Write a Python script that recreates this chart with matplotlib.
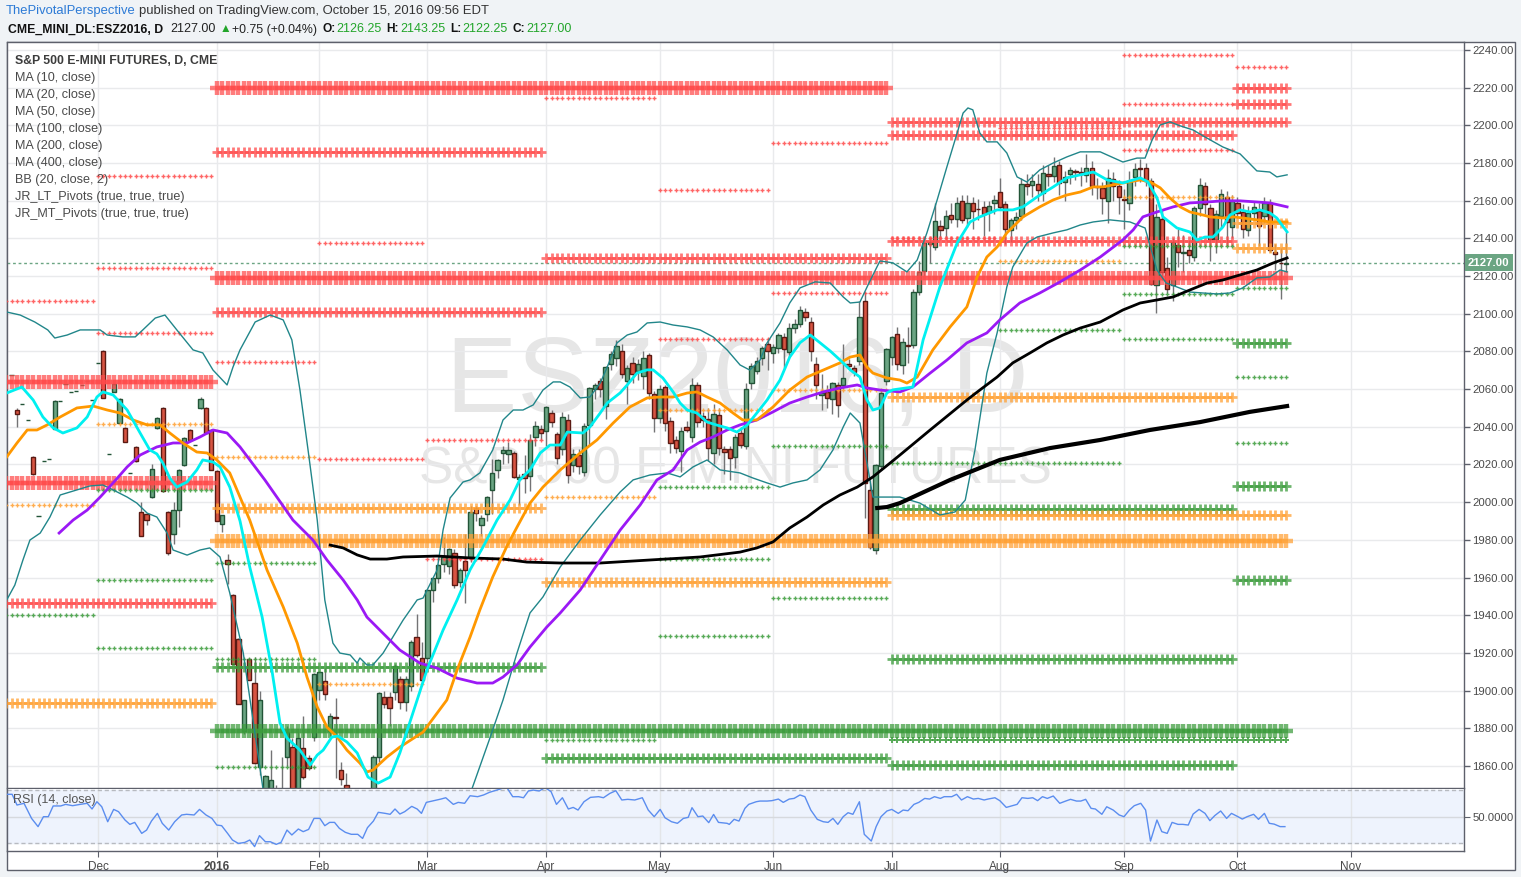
import numpy as np
import pandas as pd
import matplotlib
matplotlib.use('Agg')
import matplotlib.pyplot as plt
from matplotlib.patches import Rectangle
from matplotlib.transforms import blended_transform_factory

plt.rcParams['font.family'] = ['Liberation Sans', 'DejaVu Sans']

# ---------------------------------------------------------------- data
first_bar = '2015-11-06'
last_bar = '2016-10-14'
holidays = ['2015-11-26', '2015-12-25', '2016-01-01', '2016-01-18', '2016-02-15',
            '2016-03-25', '2016-05-30', '2016-07-04', '2016-09-05', '2016-11-24']

opens = [
    2067.5, 2049, 2052, 2043.5, 2024, 1992.5, 2022, 2023, 2039, 2053.5,
    2062.5, 2058.5, 2059, 2062, 2064.5, 2054, 2074, 2080, 2025.5, 2058.5,
    2042, 2039.5, 2015.5, 2029.5, 1995, 1993.5, 2002.5, 2039.5, 2050, 1995,
    1983, 1996, 2019.5, 2038.5, 2030.5, 2050, 2050, 2038.5, 2016.5, 1988.5,
    1969.5, 1950.5, 1927.5, 1878.5, 1917, 1904, 1859.5, 1836, 1845, 1846,
    1830, 1865, 1870, 1840, 1869.5, 1864, 1875.5, 1900.5, 1905, 1878.5,
    1885.75, 1858, 1850, 1836, 1815, 1826, 1812, 1805, 1864.5, 1896.5,
    1896.5, 1899.5, 1906, 1894, 1902.5, 1928.5, 1917.5, 1917.5, 1953.5, 1960,
    1967, 1966, 1973, 1957.5, 1969, 1971, 1997, 1988, 1993.5, 2006.5,
    2017, 2026, 2025.5, 2026, 2012.5, 2015, 2014, 2034.5, 2039, 2038,
    2047.5, 2036, 2028, 2043.5, 2019.5, 2025, 2016, 2041, 2060, 2064.5,
    2051, 2073.5, 2076.5, 2080, 2064.5, 2074, 2069.5, 2067, 2078, 2057.5,
    2044.5, 2061, 2043, 2033, 2027, 2040, 2034.5, 2062, 2045.5, 2044,
    2026, 2046.5, 2028, 2028, 2024, 2036.5, 2030, 2063, 2069.5, 2076.5,
    2084, 2079, 2082, 2087.5, 2079.5, 2092.5, 2094.5, 2101, 2095.5, 2073.5,
    2057, 2058.5, 2054.5, 2062, 2062, 2073.5, 2071, 2075, 2107, 2006.5,
    1974.5, 2019, 2064.5, 2077, 2089.5, 2073, 2083.25, 2083.5, 2111.5, 2122.5,
    2137, 2135.5, 2146.5, 2145.5, 2152.5, 2150.5, 2160, 2151, 2159, 2155.75,
    2156.5, 2154, 2159, 2164.5, 2158, 2144.5, 2149.5, 2152, 2169, 2168.5,
    2169, 2164, 2174, 2173, 2179, 2170, 2174, 2175.5, 2175, 2173.5,
    2177.5, 2167.5, 2166.5, 2160, 2171.5, 2168, 2161, 2158.5, 2172.5, 2177.5,
    2177.5, 2170.5, 2115, 2150.5, 2124.5, 2115, 2136.5, 2132, 2134, 2130,
    2156, 2168, 2156, 2139.5, 2152, 2162, 2146, 2158.5, 2154, 2144.5,
    2153.5, 2154.5, 2152, 2159, 2133, 2127, 2126.25]
highs = [
    2067.5, 2050, 2052, 2043.5, 2024.5, 1992.5, 2022, 2023, 2054, 2053.5,
    2062.5, 2058.5, 2059, 2062, 2064.5, 2054, 2074, 2080.5, 2025.5, 2063,
    2055.5, 2040, 2015.5, 2030, 2000, 1994, 2020.5, 2045, 2050.5, 1995.5,
    2000, 2017.5, 2034.5, 2039, 2030.5, 2056, 2050.5, 2039, 2017, 1993,
    1972.5, 1951, 1928, 1895, 1917.5, 1918, 1900, 1855, 1868.5, 1850,
    1865, 1881, 1875, 1879, 1886.5, 1866, 1909.5, 1910.5, 1912, 1888,
    1896, 1862, 1856, 1842, 1830, 1830, 1820, 1866, 1899, 1900,
    1899, 1914, 1908, 1908, 1927, 1940.5, 1926, 1954, 1960, 1967,
    1981.5, 1975.5, 1975, 1965, 1983, 1998, 1998, 1993, 2003, 2023,
    2023, 2030, 2032, 2027, 2015, 2025, 2036, 2043, 2041, 2051,
    2049, 2037, 2048, 2047, 2028, 2028, 2042, 2061, 2063, 2066,
    2072, 2080, 2086, 2084, 2073, 2077, 2076, 2080, 2079, 2059,
    2062, 2062, 2045, 2035, 2040, 2043, 2066, 2064, 2048, 2050,
    2052, 2050, 2030, 2030, 2036, 2040, 2063, 2074, 2077, 2083,
    2087, 2084, 2090, 2090, 2095, 2097, 2104, 2103, 2098, 2077,
    2068, 2062, 2064, 2064, 2084, 2076, 2073, 2107, 2111.5, 2012,
    2020, 2060, 2082, 2088, 2093, 2087, 2093, 2113, 2128, 2138.5,
    2140, 2159, 2150, 2155, 2159, 2162, 2163, 2163, 2162, 2161,
    2160, 2160, 2163, 2172, 2160, 2151, 2154, 2172, 2174, 2174,
    2174, 2179, 2179, 2183, 2181, 2176, 2178, 2177, 2178, 2185,
    2181, 2172, 2170, 2177, 2175, 2171, 2166, 2176, 2180, 2182,
    2180, 2172, 2158, 2155, 2130, 2140, 2145, 2142, 2139, 2157,
    2172, 2170, 2158, 2155, 2166, 2165, 2163, 2162, 2158, 2157,
    2160, 2159, 2162, 2161, 2137, 2135, 2143.25]
lows = [
    2067.5, 2040, 2052, 2043.5, 2014.5, 1992.5, 2022, 2023, 2039, 2053.5,
    2062.5, 2058.5, 2059, 2062, 2064.5, 2054, 2074, 2055.5, 2025.5, 2058.5,
    2042, 2032, 2015.5, 2021.5, 1982, 1988, 2002, 2039, 2005.5, 1972,
    1978, 1987, 2019, 2032.5, 2030.5, 2049.5, 2036.5, 2017, 1990, 1984,
    1956.5, 1914, 1893, 1877, 1905.5, 1861, 1855, 1830, 1840, 1825,
    1828, 1860, 1838, 1836, 1853, 1858, 1873, 1895, 1895, 1876,
    1853.5, 1850, 1830, 1812, 1800, 1808, 1795, 1803, 1862, 1891,
    1881, 1895, 1890, 1889, 1900, 1918, 1905, 1915, 1947, 1957,
    1963, 1962, 1954.5, 1955, 1946.5, 1968, 1990, 1982, 1990, 1993.5,
    2013, 2020, 2021, 2013, 1998.5, 2005, 2006, 2030, 2033, 2030,
    2040, 2020, 2025, 2010, 2016, 2015, 2014, 2030, 2055, 2056,
    2044, 2070, 2072, 2066, 2052, 2063, 2065, 2060, 2055, 2037,
    2042, 2038, 2026, 2026, 2016, 2037, 2032, 2040, 2040, 2022,
    2020, 2025, 2015, 2012, 2018, 2029, 2028, 2060, 2068, 2073,
    2070, 2074, 2079, 2071, 2077, 2090, 2093, 2096, 2075, 2055,
    2049, 2050, 2047, 2045, 2060, 2071, 2067, 2073, 1991.5, 1975,
    1972.5, 2017, 2062, 2073, 2070, 2068, 2074, 2082, 2110, 2120,
    2127, 2134, 2140, 2140, 2148, 2146, 2148, 2146, 2145, 2150,
    2141, 2144, 2153, 2155, 2137, 2138, 2145, 2150, 2163, 2162,
    2160, 2160, 2168, 2170, 2163, 2160, 2169, 2171, 2168, 2170,
    2163, 2161, 2153, 2148, 2160, 2153, 2145, 2155, 2168, 2170,
    2168, 2115, 2100.5, 2118, 2111, 2107, 2125, 2122, 2127, 2128,
    2152, 2153, 2128, 2132, 2145, 2137, 2140, 2151, 2140, 2141,
    2150, 2136, 2148, 2133, 2123, 2108, 2122.25]
closes = [
    2067.5, 2047, 2052, 2043.5, 2015, 1992.5, 2022, 2023, 2053.5, 2053.5,
    2062.5, 2058.5, 2059, 2062, 2064.5, 2054, 2074, 2055.5, 2025.5, 2062.5,
    2055, 2032, 2015.5, 2022, 1982, 1990.5, 2017.5, 2044.5, 2006, 1973,
    1996, 2017, 2034, 2033, 2030.5, 2054.5, 2036.5, 2017, 1990, 1993,
    1967, 1914, 1893, 1895, 1905.5, 1861.5, 1895, 1854.5, 1852.5, 1830,
    1846, 1878, 1840, 1875, 1854, 1859, 1909, 1910, 1898, 1886.5,
    1885.5, 1853, 1835, 1815, 1826, 1812, 1800, 1864.5, 1898.5, 1893,
    1890.5, 1913, 1894, 1906, 1926, 1919, 1905.5, 1953.5, 1959.5, 1966.5,
    1971, 1975, 1956, 1964, 1964, 1995, 1994.5, 1991.5, 2002.5, 2015.5,
    2022.5, 2027.5, 2027.5, 2013.5, 2013.5, 2013, 2033, 2040.5, 2036.5, 2050.5,
    2042.5, 2023.5, 2045, 2014.5, 2025.5, 2019, 2040.5, 2060.5, 2062, 2060,
    2071.5, 2078.5, 2083, 2068, 2071, 2068, 2073.5, 2076.5, 2058, 2044.5,
    2060, 2042, 2031.5, 2029, 2037.5, 2038.5, 2062, 2042.5, 2043.5, 2028.5,
    2047, 2028.5, 2026.5, 2023.5, 2034.5, 2030.5, 2060, 2072.5, 2075, 2082,
    2080, 2082.5, 2088.5, 2081.5, 2092.5, 2094.5, 2102, 2098, 2080, 2062,
    2058, 2055.5, 2063, 2051.5, 2066, 2072.5, 2069, 2098, 2010, 1976,
    2019.5, 2058, 2081.5, 2087.5, 2073.5, 2085, 2083, 2111.5, 2122, 2137.5,
    2138, 2149, 2144.5, 2152, 2150.5, 2159, 2150, 2159, 2154.5, 2155.5,
    2153, 2157, 2160.5, 2156.5, 2145, 2149.5, 2151.5, 2169, 2168, 2170.5,
    2165.5, 2174.5, 2173, 2178.5, 2169.5, 2172.5, 2176.5, 2175, 2174, 2177.5,
    2168, 2167, 2161.5, 2172, 2168, 2162, 2160.5, 2170.5, 2177, 2177,
    2170.5, 2116, 2151.5, 2122, 2113, 2138, 2132.5, 2133, 2131, 2156,
    2168.5, 2158, 2139.5, 2153, 2163.5, 2148.5, 2160, 2153.5, 2145, 2153.5,
    2156.5, 2146.5, 2159, 2134, 2131.5, 2126.75, 2127.0]

# indicator lines: (bar position, price); bar 0 = 2015-12-01
ma10 = [(-16.9, 2057.9), (-14.1, 2061.1), (-12.0, 2054.2), (-10.2, 2045.2), (-8.3, 2039.4), (-6.5, 2036.7),
        (-3.9, 2039.4), (-2.0, 2045.2), (-0.2, 2055.8), (0.9, 2058.5), (2.8, 2056.9), (5.4, 2048.9), (7.8, 2036.7),
        (9.6, 2027.7), (10.9, 2025.6), (12.0, 2020.8), (13.3, 2012.8), (14.6, 2008.0), (16.5, 2010.7),
        (18.3, 2017.1), (19.4, 2022.4), (21.3, 2021.3), (22.6, 2018.7), (24.4, 2008.0), (26.3, 1990.0),
        (28.1, 1965.6), (30.4, 1939.0), (32.2, 1910.9), (33.7, 1882.8), (35.0, 1874.8), (37.4, 1868.4),
        (39.3, 1860.5), (40.6, 1865.8), (41.7, 1868.4), (43.3, 1875.3), (44.4, 1875.9), (46.1, 1872.7),
        (48.0, 1866.9), (50.0, 1854.1), (51.9, 1850.9), (54.1, 1854.1), (55.9, 1866.9), (59.1, 1895.0),
        (60.9, 1910.9), (63.9, 1932.1), (66.5, 1948.1), (68.9, 1964.1), (71.3, 1976.2), (73.9, 1990.5),
        (76.3, 2001.1), (78.1, 2011.8), (80.0, 2017.1), (81.9, 2026.1), (83.7, 2030.3), (85.6, 2030.3),
        (86.9, 2037.2), (89.8, 2036.7), (91.1, 2039.9), (93.0, 2047.3), (94.3, 2052.6), (96.7, 2058.0),
        (98.0, 2062.2), (99.8, 2068.5), (101.7, 2070.2), (102.8, 2070.2), (104.6, 2065.9), (106.5, 2058.5),
        (107.8, 2052.6), (109.1, 2048.9), (110.9, 2047.3), (112.8, 2042.5), (114.6, 2040.9), (116.5, 2039.4),
        (118.3, 2037.2), (120.2, 2040.9), (122.0, 2047.3), (123.9, 2054.2), (126.3, 2064.8), (128.1, 2077.0),
        (130.0, 2084.6), (131.9, 2088.7), (133.7, 2084.6), (135.6, 2080.2), (137.4, 2075.5), (139.3, 2070.2),
        (141.1, 2066.4), (142.4, 2054.2), (143.5, 2048.9), (144.8, 2050.0), (146.1, 2058.0), (147.2, 2059.6),
        (150.9, 2061.1), (152.8, 2086.1), (155.9, 2114.2), (159.1, 2137.5), (161.5, 2148.7), (163.3, 2151.4),
        (166.5, 2155.1), (169.4, 2155.1), (171.3, 2156.7), (173.9, 2162.0), (176.9, 2167.3), (179.4, 2172.1),
        (181.9, 2173.7), (184.3, 2175.2), (186.9, 2171.0), (189.8, 2169.4), (193.0, 2172.1), (194.4, 2170.0),
        (196.1, 2161.5), (197.2, 2151.4), (199.8, 2145.5), (202.2, 2143.4), (203.5, 2139.1), (205.0, 2140.7),
        (206.5, 2140.7), (208.3, 2146.0), (209.6, 2152.4), (211.5, 2155.1), (213.3, 2154.0), (215.2, 2155.1),
        (217.0, 2153.5), (218.3, 2150.8), (220.2, 2143.4)]
ma20 = [(-16.9, 2024.0), (-15.0, 2031.4), (-13.1, 2038.3), (-11.3, 2038.3), (-9.4, 2041.0), (-7.0, 2045.2),
        (-3.9, 2050.0), (-0.9, 2051.0), (1.7, 2048.9), (4.1, 2047.3), (6.5, 2043.6), (9.1, 2041.0),
        (11.5, 2041.0), (13.3, 2036.7), (15.7, 2031.4), (18.3, 2026.6), (20.2, 2026.1), (22.0, 2022.4),
        (24.4, 2015.5), (26.3, 2002.7), (28.1, 1990.5), (31.3, 1964.0), (34.3, 1944.4), (36.9, 1925.2),
        (38.7, 1907.2), (40.6, 1891.3), (42.4, 1880.6), (44.3, 1875.3), (46.1, 1868.4), (48.5, 1861.5),
        (49.8, 1856.8), (50.9, 1857.8), (53.5, 1864.7), (55.9, 1870.0), (60.2, 1878.0), (64.6, 1895.0),
        (66.5, 1910.9), (68.9, 1928.4), (70.7, 1942.7), (73.1, 1960.3), (75.7, 1976.5), (77.6, 1986.8),
        (80.0, 1999.5), (82.4, 2008.0), (85.6, 2017.1), (89.3, 2026.1), (92.4, 2033.0), (95.4, 2042.0),
        (98.5, 2050.5), (101.7, 2055.3), (104.1, 2055.8), (106.5, 2055.8), (109.1, 2057.9), (110.9, 2058.5),
        (112.8, 2055.8), (115.2, 2052.6), (117.6, 2047.3), (119.4, 2043.6), (122.0, 2043.6), (125.0, 2050.5),
        (128.1, 2059.5), (131.3, 2066.4), (134.3, 2070.1), (137.4, 2073.9), (139.3, 2077.0), (141.1, 2078.1),
        (142.4, 2071.7), (143.5, 2068.5), (146.1, 2065.9), (148.5, 2064.8), (149.8, 2063.2), (151.7, 2066.4),
        (154.6, 2080.8), (157.8, 2093.0), (160.9, 2103.6), (162.8, 2119.5), (164.6, 2130.1), (166.5, 2135.4),
        (168.3, 2142.9), (171.3, 2151.4), (174.4, 2156.7), (176.9, 2160.4), (179.4, 2163.0), (181.9, 2164.6),
        (184.3, 2167.3), (186.1, 2167.3), (189.8, 2169.4), (193.0, 2171.0), (194.8, 2170.0), (196.7, 2166.8),
        (198.5, 2161.4), (200.4, 2156.7), (202.2, 2154.0), (204.6, 2152.4), (205.9, 2151.4), (208.3, 2150.8),
        (210.2, 2151.4), (212.0, 2150.8), (214.6, 2149.8), (217.0, 2148.7), (220.2, 2148.7)]
ma50 = [(-7.2, 1983.6), (-4.6, 1990.5), (-2.0, 1995.8), (0.4, 2002.7), (2.8, 2010.2), (5.4, 2018.7),
        (7.8, 2025.0), (10.9, 2029.3), (13.9, 2031.4), (16.5, 2031.4), (18.9, 2034.6), (21.3, 2038.3),
        (23.9, 2036.7), (26.3, 2029.3), (30.9, 2011.8), (36.1, 1990.5), (39.8, 1979.9), (42.4, 1969.3),
        (45.4, 1958.7), (48.0, 1948.1), (49.8, 1939.0), (52.2, 1932.1), (55.9, 1921.5), (59.6, 1914.6),
        (62.8, 1911.9), (66.5, 1906.6), (70.2, 1904.0), (73.1, 1904.0), (75.0, 1907.2), (77.6, 1913.6),
        (80.0, 1923.1), (83.1, 1933.7), (85.6, 1941.2), (89.3, 1953.4), (93.0, 1969.3), (96.7, 1985.2),
        (100.4, 1998.5), (103.5, 2011.8), (106.5, 2017.1), (109.1, 2027.7), (111.5, 2031.9), (113.9, 2034.6),
        (116.5, 2038.3), (118.9, 2041.0), (122.0, 2043.6), (125.0, 2047.9), (128.1, 2052.6), (131.3, 2055.8),
        (134.3, 2058.5), (137.4, 2060.6), (140.6, 2062.2), (142.4, 2060.6), (144.8, 2059.5), (148.5, 2058.5),
        (150.9, 2061.1), (154.1, 2068.5), (157.2, 2075.4), (160.9, 2084.5), (164.6, 2089.8), (167.0, 2096.7),
        (170.7, 2105.7), (174.4, 2111.0), (178.1, 2116.8), (181.9, 2123.2), (185.6, 2130.1), (189.8, 2139.2),
        (191.7, 2144.5), (193.5, 2151.4), (196.1, 2154.0), (199.1, 2156.7), (202.2, 2158.8), (205.4, 2159.3),
        (208.3, 2159.9), (211.5, 2159.9), (214.6, 2159.3), (217.0, 2158.8), (220.2, 2156.7)]
ma200 = [(43.0, 1977.2), (45.4, 1975.7), (48.0, 1972.0), (50.4, 1969.8), (53.5, 1969.8), (56.5, 1970.9),
         (62.8, 1971.4), (68.9, 1970.4), (75.0, 1969.8), (79.4, 1968.2), (85.6, 1967.7), (93.0, 1967.7),
         (102.2, 1969.3), (111.5, 1970.9), (118.9, 1973.5), (122.0, 1975.7), (125.0, 1978.9), (128.1, 1986.3),
         (131.3, 1992.1), (134.3, 1998.5), (137.4, 2003.8), (140.6, 2008.0), (143.5, 2013.4), (146.7, 2020.8),
         (148.5, 2025.0), (154.1, 2038.3), (160.9, 2054.2), (163.3, 2059.5), (166.5, 2066.4), (169.4, 2073.9),
         (172.6, 2079.2), (175.7, 2084.5), (178.7, 2088.7), (181.9, 2092.4), (185.6, 2095.6), (189.8, 2102.0),
         (193.0, 2105.7), (196.1, 2107.3), (199.1, 2108.9), (202.2, 2112.6), (205.4, 2116.3), (208.3, 2117.9),
         (211.5, 2120.6), (214.6, 2123.2), (217.6, 2126.9), (220.2, 2129.6)]
ma400 = [(144.3, 1996.9), (146.1, 1997.4), (148.5, 1999.5), (157.8, 2011.8), (167.0, 2022.4), (176.3, 2028.7),
         (185.6, 2033.0), (194.8, 2038.3), (204.1, 2042.5), (213.3, 2047.9), (220.2, 2051.0)]
bb_upper = [(-16.9, 2100.9), (-14.4, 2099.3), (-11.7, 2095.6), (-9.3, 2091.4), (-8.0, 2087.1), (-5.7, 2088.7),
            (-3.3, 2091.4), (0.4, 2091.4), (1.7, 2088.7), (4.6, 2087.7), (6.9, 2087.7), (8.3, 2091.4),
            (10.6, 2097.7), (12.4, 2099.3), (14.6, 2091.4), (17.6, 2080.8), (19.4, 2079.2), (21.3, 2070.1),
            (23.9, 2062.2), (25.0, 2071.7), (26.3, 2080.8), (29.1, 2095.6), (31.9, 2099.3), (34.3, 2096.7),
            (35.9, 2086.1), (37.4, 2059.5), (38.9, 2027.7), (40.6, 1990.5), (42.0, 1948.1), (43.5, 1925.2),
            (44.8, 1919.9), (46.7, 1918.9), (48.0, 1914.6), (48.5, 1917.3), (49.8, 1913.6), (50.9, 1913.6),
            (52.8, 1919.9), (54.6, 1928.4), (56.5, 1937.4), (59.1, 1948.1), (60.2, 1949.1), (62.8, 1964.0),
            (63.9, 1985.2), (65.2, 2002.2), (67.6, 2010.7), (68.9, 2011.8), (70.7, 2015.5), (73.1, 2027.7),
            (75.0, 2043.6), (76.9, 2048.9), (78.7, 2048.9), (80.6, 2051.6), (82.4, 2059.5), (84.3, 2063.8),
            (85.6, 2063.8), (87.4, 2061.1), (89.3, 2055.3), (91.1, 2055.8), (93.0, 2063.2), (94.3, 2071.7),
            (96.1, 2084.5), (98.0, 2088.7), (99.8, 2090.3), (101.7, 2095.1), (104.1, 2095.6), (106.5, 2094.0),
            (109.1, 2093.0), (111.5, 2091.4), (113.9, 2087.7), (116.5, 2080.8), (118.9, 2072.8), (120.7, 2070.1),
            (122.6, 2075.4), (123.9, 2084.5), (126.3, 2095.1), (128.1, 2105.7), (130.0, 2113.7), (132.8, 2116.9),
            (135.6, 2116.3), (138.0, 2108.9), (139.3, 2105.7), (141.1, 2106.2), (142.6, 2115.3), (144.8, 2128.0),
            (147.2, 2127.0), (149.8, 2122.2), (151.7, 2128.5), (153.5, 2142.9), (155.4, 2160.4), (157.2, 2177.9),
            (159.1, 2195.9), (160.2, 2206.5), (161.1, 2209.2), (162.0, 2208.2), (163.3, 2195.9), (164.6, 2191.2),
            (166.5, 2191.2), (168.3, 2185.3), (170.2, 2172.6), (172.0, 2169.9), (174.4, 2176.3), (176.9, 2180.0),
            (179.4, 2183.2), (181.9, 2185.9), (185.6, 2185.9), (189.8, 2180.5), (192.4, 2182.6), (193.9, 2182.6),
            (195.2, 2192.2), (196.7, 2200.2), (198.5, 2201.8), (200.4, 2199.7), (202.8, 2197.5), (205.0, 2193.8),
            (208.3, 2188.5), (211.5, 2184.8), (214.6, 2175.8), (217.0, 2175.2), (218.3, 2172.6), (220.2, 2173.7)]
bb_lower = [(-16.9, 1948.1), (-15.4, 1956.0), (-13.9, 1969.3), (-12.6, 1979.9), (-10.7, 1983.6), (-8.9, 1992.1),
            (-7.0, 2003.8), (-3.9, 2006.5), (-1.5, 2008.6), (0.9, 2009.1), (2.8, 2006.5), (5.4, 2002.7),
            (7.2, 1999.5), (9.1, 1994.2), (10.9, 1992.1), (12.8, 1983.6), (13.9, 1974.6), (16.5, 1971.9),
            (18.9, 1974.6), (20.7, 1975.7), (22.6, 1970.9), (24.4, 1951.8), (26.9, 1920.0), (28.7, 1884.4),
            (30.4, 1850.9), (31.9, 1820.0), (35.0, 1800.0), (45.0, 1785.0), (60.0, 1790.0), (66.0, 1810.0),
            (68.9, 1845.0), (72.6, 1875.0), (75.0, 1895.0), (77.6, 1920.0), (80.0, 1941.2), (82.4, 1949.7),
            (85.6, 1965.6), (89.3, 1979.9), (93.0, 1993.2), (96.7, 2005.4), (99.1, 2011.8), (102.2, 2014.4),
            (105.4, 2015.5), (107.8, 2013.4), (110.2, 2018.7), (112.8, 2022.4), (115.2, 2017.1), (118.9, 2015.5),
            (121.3, 2012.8), (123.9, 2010.2), (126.3, 2008.0), (128.7, 2010.2), (131.3, 2011.8), (133.7, 2017.1),
            (136.1, 2027.7), (138.0, 2039.9), (139.3, 2047.3), (141.1, 2042.0), (142.4, 2020.8), (143.5, 2002.7),
            (146.1, 2002.7), (148.5, 2002.7), (152.2, 1999.5), (155.9, 1993.2), (158.7, 1994.8), (160.6, 2001.1),
            (162.4, 2027.7), (164.6, 2068.5), (166.5, 2089.8), (168.3, 2114.2), (169.4, 2124.8), (172.0, 2137.5),
            (173.9, 2140.7), (176.9, 2142.9), (179.4, 2144.5), (181.9, 2147.1), (184.3, 2148.7), (187.4, 2149.8),
            (191.1, 2148.7), (193.9, 2145.5), (196.1, 2123.2), (197.8, 2116.3), (199.8, 2114.2), (202.2, 2111.5),
            (204.6, 2111.0), (207.2, 2110.5), (209.6, 2111.0), (212.0, 2113.7), (214.6, 2119.0), (217.0, 2119.5),
            (218.9, 2123.2), (220.2, 2122.2)]
rsi = [(-16.8, 67.0), (-15.9, 67.0), (-15.0, 58.9), (-13.7, 60.2), (-12.3, 48.8), (-11.1, 42.6), (-10.1, 50.1),
       (-9.2, 50.1), (-8.3, 58.2), (-6.9, 58.2), (-6.0, 59.4), (-4.7, 58.4), (-3.3, 59.4), (-2.0, 60.2),
       (-1.1, 55.9), (-0.2, 61.4), (0.7, 57.6), (1.8, 46.3), (2.9, 55.6), (3.8, 53.9), (5.0, 47.6), (5.9, 44.3),
       (6.8, 45.8), (8.1, 37.5), (9.0, 40.0), (9.9, 46.8), (11.0, 52.6), (11.9, 45.1), (13.1, 40.0), (14.2, 46.3),
       (15.5, 51.4), (16.4, 51.9), (17.8, 51.4), (18.8, 55.6), (20.0, 51.4), (21.1, 48.8), (22.0, 43.8),
       (22.9, 43.3), (24.0, 37.5), (24.9, 32.5), (26.0, 29.9), (27.2, 30.7), (28.1, 32.5), (29.0, 27.5),
       (29.9, 35.8), (31.0, 31.2), (31.9, 31.2), (33.0, 29.2), (33.9, 30.7), (35.0, 40.0), (35.9, 36.3),
       (37.1, 40.8), (38.0, 38.8), (39.0, 40.5), (40.0, 48.8), (41.1, 48.8), (42.0, 43.3), (42.9, 45.8),
       (43.8, 45.8), (44.7, 41.3), (45.8, 38.3), (46.9, 36.8), (48.1, 36.8), (49.0, 33.7), (49.9, 41.8),
       (51.0, 46.8), (51.9, 53.4), (53.2, 52.6), (54.1, 51.9), (55.0, 55.9), (55.9, 52.1), (56.8, 53.9),
       (58.1, 57.9), (59.1, 55.9), (59.9, 52.6), (60.8, 60.9), (62.2, 62.2), (63.5, 63.4), (64.4, 64.4),
       (65.8, 59.4), (66.7, 60.9), (67.9, 60.2), (68.9, 65.9), (70.3, 65.2), (71.4, 66.5), (72.5, 68.5),
       (73.9, 70.2), (74.9, 71.5), (75.8, 71.5), (76.8, 65.2), (77.9, 65.2), (78.8, 64.4), (79.7, 69.5),
       (80.6, 70.2), (81.7, 69.5), (82.8, 72.0), (83.9, 69.0), (84.9, 59.4), (86.0, 64.4), (87.1, 55.9),
       (88.0, 57.1), (88.9, 55.1), (90.0, 61.4), (91.2, 64.7), (92.7, 65.2), (93.6, 64.4), (94.8, 67.7),
       (95.9, 69.7), (97.0, 62.7), (98.1, 63.2), (99.4, 62.7), (100.8, 64.4), (101.9, 55.1), (103.0, 50.1),
       (104.1, 55.6), (105.0, 49.3), (106.2, 46.3), (107.3, 45.1), (108.4, 48.8), (109.3, 49.6), (110.0, 56.9),
       (111.1, 50.1), (112.0, 50.6), (113.1, 45.6), (114.0, 51.8), (114.9, 45.8), (116.5, 45.1), (116.9, 44.3),
       (117.8, 48.1), (118.7, 46.8), (119.8, 56.4), (120.5, 59.4), (121.9, 61.4), (122.6, 61.9), (123.9, 61.9),
       (124.8, 62.2), (126.0, 63.4), (126.9, 60.9), (128.0, 63.4), (128.9, 63.9), (130.0, 66.5), (130.9, 65.2),
       (132.0, 55.1), (133.2, 48.1), (134.3, 46.3), (135.2, 45.8), (136.1, 48.8), (137.0, 44.3), (138.0, 50.1),
       (138.9, 53.1), (139.8, 51.9), (141.0, 61.4), (141.9, 36.8), (143.2, 31.7), (144.1, 42.6), (145.0, 50.1),
       (146.1, 54.4), (147.0, 55.6), (148.2, 52.6), (149.1, 55.1), (150.0, 54.6), (151.1, 59.4), (152.0, 60.9),
       (153.1, 63.9), (154.0, 63.4), (154.9, 65.2), (156.0, 63.9), (156.7, 65.2), (158.1, 65.2), (159.0, 67.0),
       (159.9, 62.7), (161.0, 65.2), (162.1, 63.4), (163.0, 63.9), (164.1, 62.7), (164.8, 63.4), (166.1, 64.4),
       (167.0, 62.2), (168.2, 57.1), (169.3, 58.4), (170.2, 59.4), (171.1, 64.4), (172.2, 63.9), (173.1, 64.4),
       (174.0, 62.2), (174.9, 65.2), (175.8, 63.9), (176.9, 65.7), (178.1, 60.2), (179.2, 61.9), (180.1, 63.2),
       (181.2, 61.9), (182.0, 61.9), (182.9, 63.2), (183.9, 56.4), (184.7, 55.9), (185.9, 51.9), (186.8, 57.6),
       (188.0, 55.1), (189.1, 51.4), (190.0, 50.1), (191.0, 55.1), (191.9, 58.4), (193.1, 60.2), (194.0, 55.1),
       (194.9, 31.7), (196.1, 47.6), (197.0, 38.8), (198.0, 37.5), (198.9, 45.8), (200.0, 44.3), (200.9, 44.3),
       (201.9, 43.8), (202.8, 52.1), (203.9, 55.6), (205.0, 52.6), (205.9, 47.1), (206.8, 50.9), (207.9, 54.4),
       (209.0, 48.8), (209.9, 52.6), (211.1, 50.1), (211.9, 48.3), (212.8, 50.1), (214.0, 51.9), (214.9, 48.1),
       (216.0, 52.6), (216.9, 45.1), (217.8, 44.5), (218.9, 42.6), (219.8, 42.6)]

# pivot levels: (period, price, kind R/P/S, weight)
lt_pivots = [
    ('2015Q4', 2063.8, 'R', 'big'), ('2015Q4', 2010.2, 'R', 'big'), ('2015Q4', 1946.5, 'R', 'med'),
    ('2015Q4', 1893.5, 'P', 'med'),
    ('2016H1', 2219.8, 'R', 'big'), ('2016', 2119.0, 'R', 'big'), ('2016', 1979.4, 'P', 'big'),
    ('2016', 1878.5, 'S', 'big'),
    ('2016Q1', 2185.9, 'R', 'med'), ('2016Q1', 2100.9, 'R', 'med'), ('2016Q1', 1996.9, 'P', 'med'),
    ('2016Q1', 1912.5, 'S', 'med'),
    ('2016Q2', 2129.6, 'R', 'med'), ('2016Q2', 1957.6, 'P', 'med'), ('2016Q2', 1864.2, 'S', 'med'),
    ('2016Q3', 2201.8, 'R', 'med'), ('2016Q3', 2194.9, 'R', 'med'), ('2016Q3', 2138.6, 'R', 'med'),
    ('2016Q3', 2055.8, 'P', 'med'), ('2016Q3', 1996.1, 'S', 'med'), ('2016Q3', 1916.7, 'S', 'med'),
    ('2016Q3', 1860.5, 'S', 'med'),
    ('2016H2', 1993.2, 'P', 'med'), ('2016H2', 1873.8, 'S', 'small'),
    ('2016Q4', 2219.8, 'R', 'med'), ('2016Q4', 2211.3, 'R', 'med'), ('2016Q4', 2201.8, 'R', 'med'),
    ('2016Q4', 2148.4, 'P', 'med'), ('2016Q4', 2134.8, 'P', 'med'), ('2016Q4', 2084.5, 'S', 'med'),
    ('2016Q4', 2008.6, 'S', 'med'), ('2016Q4', 1958.7, 'S', 'med'),
]
mt_pivots = [
    ('2015-11', 2106.8, 'R'), ('2015-11', 1998.5, 'P'), ('2015-11', 1940.1, 'S'),
    ('2015-12', 2173.0, 'R'), ('2015-12', 2124.5, 'R'), ('2015-12', 2089.8, 'R'), ('2015-12', 2041.5, 'P'),
    ('2015-12', 2006.5, 'S'), ('2015-12', 1958.7, 'S'), ('2015-12', 1922.6, 'S'),
    ('2016-01', 2074.4, 'R'), ('2016-01', 2024.0, 'P'), ('2016-01', 1967.7, 'S'), ('2016-01', 1916.7, 'S'),
    ('2016-01', 1859.4, 'S'),
    ('2016-02', 2137.5, 'R'), ('2016-02', 2022.9, 'R'), ('2016-02', 1903.5, 'P'),
    ('2016-03', 2033.0, 'R'), ('2016-03', 1969.8, 'R'),
    ('2016-04', 2214.5, 'R'), ('2016-04', 2002.7, 'P'), ('2016-04', 1873.8, 'S'),
    ('2016-05', 2165.7, 'R'), ('2016-05', 2086.6, 'R'), ('2016-05', 2049.0, 'P'), ('2016-05', 2008.0, 'S'),
    ('2016-05', 1970.0, 'S'), ('2016-05', 1929.0, 'S'),
    ('2016-06', 2190.6, 'R'), ('2016-06', 2111.0, 'R'), ('2016-06', 2059.5, 'P'), ('2016-06', 2029.8, 'S'),
    ('2016-06', 1949.1, 'S'),
    ('2016-07', 2140.0, 'R'), ('2016-07', 2021.0, 'S'),
    ('2016-08', 2198.5, 'R'), ('2016-08', 2128.0, 'P'), ('2016-08', 2091.4, 'S'), ('2016-08', 2021.0, 'S'),
    ('2016-09', 2237.4, 'R'), ('2016-09', 2211.3, 'R'), ('2016-09', 2187.0, 'R'), ('2016-09', 2162.0, 'P'),
    ('2016-09', 2136.0, 'S'), ('2016-09', 2110.4, 'S'), ('2016-09', 2086.6, 'S'),
    ('2016-10', 2231.0, 'R'), ('2016-10', 2113.7, 'S'), ('2016-10', 2066.4, 'S'), ('2016-10', 2031.4, 'S'),
]
month_labels = ['Dec', '2016', 'Feb', 'Mar', 'Apr', 'May', 'Jun', 'Jul', 'Aug', 'Sep', 'Oct', 'Nov']
legend_title = 'S&P 500 E-MINI FUTURES, D, CME'
legend_lines = ['MA (10, close)', 'MA (20, close)', 'MA (50, close)', 'MA (100, close)', 'MA (200, close)',
                'MA (400, close)', 'BB (20, close, 2)', 'JR_LT_Pivots (true, true, true)',
                'JR_MT_Pivots (true, true, true)']
symbol = 'CME_MINI_DL:ESZ2016, D'
last_price = 2127.00
change = '+0.75 (+0.04%)'
ohlc_last = [('O:', '2126.25'), ('H:', '2143.25'), ('L:', '2122.25'), ('C:', '2127.00')]

# ---------------------------------------------------------------- calendar
days = pd.bdate_range('2015-11-05', '2016-11-30')
days = days[~days.isin(pd.to_datetime(holidays))]
pos = np.arange(len(days)) - days.get_loc(pd.Timestamp('2015-12-01'))
bmask = (days >= pd.Timestamp(first_bar)) & (days <= pd.Timestamp(last_bar))
bx = pos[bmask]
assert len(bx) == len(opens) == len(highs) == len(lows) == len(closes)
last_k = bx[-1]

firsts = days.to_series().groupby([days.year, days.month]).first()
month_k = [pos[days.get_loc(d)] for d in firsts if d >= pd.Timestamp('2015-12-01')]


def period_range(p):
    if '-' in p:
        y, m = map(int, p.split('-'))
        mk = (days.year == y) & (days.month == m)
    elif 'Q' in p:
        y, q = int(p[:4]), int(p[5])
        mk = (days.year == y) & (days.quarter == q)
    elif 'H' in p:
        y, hh = int(p[:4]), int(p[5])
        mk = (days.year == y) & ((days.month - 1) // 6 == hh - 1)
    else:
        mk = days.year == int(p)
    ks = pos[mk]
    return ks.min(), min(ks.max(), last_k)


# ---------------------------------------------------------------- figure
W, H = 1521, 877
fig = plt.figure(figsize=(W / 100, H / 100), dpi=100)
fig.patch.set_facecolor('#f0f3f6')


def fx(x):
    return x / W


def fy(y):
    return 1 - y / H


frame = Rectangle((fx(7), fy(870)), (1515 - 7) / W, (870 - 42) / H, transform=fig.transFigure,
                  facecolor='white', edgecolor='#5d606b', lw=1.0, zorder=-5)
fig.patches.append(frame)

ax = fig.add_axes([fx(7), fy(788), (1464 - 7) / W, (788 - 42) / H])
rax = fig.add_axes([fx(7), fy(851), (1464 - 7) / W, (851 - 789) / H])

xlo, xhi = -16.85, 252.96
ax.set_xlim(xlo, xhi)
ax.set_ylim(1848.3, 2244.2)
rax.set_xlim(xlo, xhi)
rax.set_ylim(24.2, 71.0)

spc = '#5d606b'
for a in (ax, rax):
    for s in a.spines.values():
        s.set_color(spc)
        s.set_linewidth(1.0)
rax.spines['top'].set_visible(False)

# grid
ax.set_xticks(month_k)
ax.tick_params(axis='x', length=0, labelbottom=False)
ax.yaxis.tick_right()
yt = np.arange(1860, 2241, 20)
ax.set_yticks(yt)
ax.set_yticklabels(['%.2f' % v for v in yt])
ax.tick_params(axis='y', direction='out', length=4, width=1, color=spc, labelsize=8.2,
               labelcolor='#4a4a4a', pad=2)
ax.grid(True, color='#e9eaec', lw=1)
ax.set_axisbelow(True)

# watermark
ax.text((737 - 7) / 1457, (788 - 384) / 746, 'ESZ2016, D', transform=ax.transAxes, ha='center',
        va='center', fontsize=77, color='#e6e6e6', zorder=0.3)
ax.text((735 - 7) / 1457, (788 - 470) / 746, 'S&P 500 E-MINI FUTURES', transform=ax.transAxes,
        ha='center', va='center', fontsize=37, color='#e6e6e6', zorder=0.3)

# current price line
ax.axhline(last_price, color='#6ba583', lw=1, ls=(0, (2, 2)), zorder=1.5)

# candles
o, h, l, c = (np.array(v, float) for v in (opens, highs, lows, closes))
up = c >= o
ax.vlines(bx, l, h, color='#737375', lw=1, zorder=2)
body_lo = np.minimum(o, c)
body_h = np.abs(c - o)
ax.bar(bx[up], body_h[up], bottom=body_lo[up], width=0.78, color='#6ba583', edgecolor='#225437',
       linewidth=1, zorder=2.2)
ax.bar(bx[~up], body_h[~up], bottom=body_lo[~up], width=0.78, color='#d75442', edgecolor='#5b1a13',
       linewidth=1, zorder=2.2)

# pivots
pcol = {'R': '#ff4b4b', 'P': '#ffa033', 'S': '#3c9c3c'}
wstyle = {'big': (10, 3.2, 0.72), 'med': (6.5, 2.0, 0.75), 'small': (4, 1.4, 0.85)}
for per, price, kind, wgt in lt_pivots:
    s, e = period_range(per)
    xs = np.arange(s, e + 1)
    ms, mew, al = wstyle[wgt]
    ax.plot(xs, np.full(len(xs), price), ls='none', marker='+', ms=ms, mew=mew, color=pcol[kind],
            alpha=al, zorder=3)
for per, price, kind in mt_pivots:
    s, e = period_range(per)
    xs = np.arange(s, e + 1)
    ax.plot(xs, np.full(len(xs), price), ls='none', marker='+', ms=3.2, mew=1.0, color=pcol[kind],
            alpha=0.85, zorder=3)


def line(data, **kw):
    kk, vv = zip(*data)
    ax.plot(kk, vv, **kw)


line(bb_upper, color='#21868a', lw=1, zorder=4)
line(bb_lower, color='#21868a', lw=1, zorder=4)
line(ma200, color='#000000', lw=2, zorder=4.2)
line(ma400, color='#000000', lw=3, zorder=4.2)
line(ma50, color='#9b19f5', lw=2, zorder=4.3)
line(ma20, color='#ff9800', lw=2, zorder=4.4)
line(ma10, color='#00f0f0', lw=2, zorder=4.5)

# current price label on the axis
bt = blended_transform_factory(ax.transAxes, ax.transData)
ax.text(1.0 + 4 / 1457, last_price, '%.2f' % last_price, transform=bt, ha='left', va='center',
        color='white', fontsize=8.2, fontweight='bold', zorder=10, clip_on=False,
        bbox=dict(boxstyle='square,pad=0.3', fc='#6ba583', ec='none'))

# RSI pane
rk, rv = zip(*rsi)
rax.axhspan(30, 70, color='#eef3fd', zorder=0)
rax.axhline(70, color='#b7bac0', lw=1, ls=(0, (3, 2)), zorder=1)
rax.axhline(30, color='#b7bac0', lw=1, ls=(0, (3, 2)), zorder=1)
rax.axhline(50, color='#d6d9de', lw=1, zorder=1)
rax.plot(rk, rv, color='#5b8def', lw=1, zorder=3)
rax.set_xticks(month_k)
rax.set_xticklabels(month_labels)
for t in rax.get_xticklabels():
    if t.get_text() == '2016':
        t.set_fontweight('bold')
rax.tick_params(axis='x', direction='out', length=4, color=spc, labelsize=8.5, labelcolor='#4a4a4a', pad=3)
rax.grid(True, axis='x', color='#e3e5e8', lw=1)
rax.set_axisbelow(True)
rax.yaxis.tick_right()
rax.set_yticks([50])
rax.set_yticklabels(['50.0000'])
rax.tick_params(axis='y', direction='out', length=4, color=spc, labelsize=8.2, labelcolor='#4a4a4a', pad=2)
rax.text(6 / 1457, (851 - 800) / 62, 'RSI (14, close)', transform=rax.transAxes, ha='left', va='center',
         fontsize=9, color='#555555', zorder=5)

# legend (top-left)
fig.text(fx(15), fy(60.5), legend_title, fontsize=8.8, fontweight='bold',
         color='#3c3c3c', va='center', ha='left')
for i, s in enumerate(legend_lines):
    fig.text(fx(15), fy(77.7 + i * 17.0), s, fontsize=9.1, color='#4a4a4a', va='center', ha='left')

# header, laid out left to right with measured widths
fig.canvas.draw()
rend = fig.canvas.get_renderer()


def flow(pieces, x0, ypix):
    x = x0
    for gap, s, col, wt, fs in pieces:
        x += gap
        t = fig.text(fx(x), fy(ypix), s, fontsize=fs, color=col, fontweight=wt, va='center', ha='left')
        x += t.get_window_extent(renderer=rend).width


flow([(0, 'ThePivotalPerspective', '#2c7ad6', 'normal', 9.4),
      (3, 'published on TradingView.com, October 15, 2016 09:56 EDT', '#333333', 'normal', 9.4)], 6, 11)
green = '#22a52a'
line2 = [(0, symbol, '#111111', 'bold', 8.8), (7, '%.2f' % last_price, '#222222', 'normal', 9.0),
         (4, '\u25b2', green, 'normal', 8.5), (1, change, '#222222', 'normal', 8.9)]
for i, (lab, val) in enumerate(ohlc_last):
    line2.append((5 if i == 0 else 5, lab, '#111111', 'bold', 8.6))
    line2.append((1, val, green, 'normal', 9.0))
flow(line2, 8, 29.5)

fig.savefig('out.png', dpi=100, facecolor=fig.get_facecolor())
